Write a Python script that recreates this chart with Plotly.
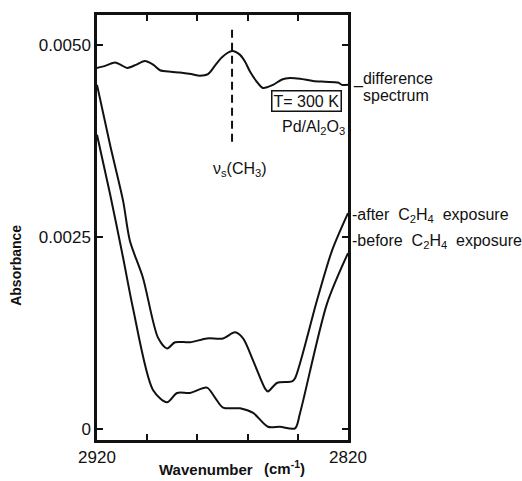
import plotly.graph_objects as go

# --- spectra (wavenumber in cm^-1, absorbance) ---
diff_wn = [2920.0, 2916.5, 2912.8, 2910.5, 2908.0, 2904.5, 2900.9, 2897.5, 2894.9, 2890.5,
           2886.9, 2882.5, 2879.0, 2875.8, 2873.0, 2870.2, 2866.2, 2863.0, 2861.0, 2859.0,
           2856.3, 2853.9, 2849.9, 2846.3, 2843.1, 2839.1, 2833.9, 2829.2, 2824.0, 2822.4, 2820.0]
diff_abs = [0.00470, 0.00473, 0.00477, 0.00474, 0.00470, 0.00474, 0.00479, 0.00474, 0.00467, 0.00465,
            0.00464, 0.00462, 0.00460, 0.00462, 0.00473, 0.00484, 0.00492, 0.00487, 0.00478, 0.00465,
            0.00452, 0.00444, 0.00448, 0.00455, 0.00457, 0.00456, 0.00453, 0.00452, 0.00451, 0.00448, 0.00448]

after_wn = [2920.0, 2914.8, 2909.6, 2906.9, 2901.7, 2895.7, 2892.1, 2888.9, 2882.9, 2876.2,
            2869.8, 2865.0, 2861.8, 2857.8, 2853.1, 2851.9, 2848.3, 2842.3, 2841.1, 2832.4,
            2826.4, 2820.0]
after_abs = [0.00448, 0.00370, 0.00297, 0.00245, 0.00197, 0.00119, 0.00105, 0.00113, 0.00113, 0.00118,
             0.00118, 0.00126, 0.00118, 0.00089, 0.00053, 0.00049, 0.00060, 0.00062, 0.00066, 0.00167,
             0.00232, 0.00281]

before_wn = [2920.0, 2914.8, 2909.6, 2905.7, 2897.7, 2892.1, 2888.1, 2882.9, 2876.2, 2873.0,
             2869.8, 2863.0, 2857.8, 2851.9, 2847.1, 2841.1, 2839.1, 2828.4, 2820.0]
before_abs = [0.00383, 0.00306, 0.00223, 0.00158, 0.00051, 0.00035, 0.00047, 0.00047, 0.00054, 0.00041,
              0.00028, 0.00027, 0.00021, 0.00003, 0.00003, 0.00001, 0.00021, 0.00163, 0.00229]

# vs(CH3) marker position
ch3_wn = 2866.2
ch3_marker_abs = [0.00374, 0.00521]

x_ticks = [2920, 2900, 2880, 2860, 2840, 2820]
x_ticktext = ["2920", "", "", "", "", "2820"]
y_ticks = [0.0, 0.0025, 0.0050]
y_ticktext = ["0", "0.0025", "0.0050"]

FONT = "Liberation Sans"
INK = "#111111"

fig = go.Figure()
line_style = dict(color=INK, width=2, shape="spline", smoothing=0.8)
for wn, ab in [(diff_wn, diff_abs), (after_wn, after_abs), (before_wn, before_abs)]:
    fig.add_trace(go.Scatter(x=wn, y=ab, mode="lines", line=line_style,
                             hoverinfo="skip", showlegend=False))

fig.add_trace(go.Scatter(x=[ch3_wn, ch3_wn], y=ch3_marker_abs, mode="lines",
                         line=dict(color=INK, width=2, dash="8px,5px"),
                         hoverinfo="skip", showlegend=False))

# plot box in pixels: left 97, right 348, top 13, bottom 440
L, R, T, B = 97, 348, 13, 440
def xp(px):
    return (px - L) / (R - L)
def yp(py):
    return (B - py) / (B - T)

axis_common = dict(showline=True, linecolor=INK, linewidth=2.5, mirror="ticks",
                   ticks="inside", ticklen=6, tickwidth=1.5, tickcolor=INK,
                   showgrid=False, zeroline=False,
                   tickfont=dict(family=FONT, size=17, color=INK))

fig.update_layout(
    width=522, height=481,
    margin=dict(l=L, r=522 - R, t=T, b=481 - B),
    paper_bgcolor="white", plot_bgcolor="white",
    xaxis=dict(range=[2920, 2820], tickvals=x_ticks, ticktext=x_ticktext, **axis_common),
    yaxis=dict(range=[-0.000142, 0.005389], tickvals=y_ticks, ticktext=y_ticktext, **axis_common),
    font=dict(family=FONT, color=INK),
)

ann = []
def add_text(text, px, py, size=15, xanchor="left", yanchor="middle", **kw):
    ann.append(dict(text=text, x=xp(px), y=yp(py), xref="paper", yref="paper",
                    xanchor=xanchor, yanchor=yanchor, showarrow=False,
                    font=dict(family=FONT, size=size, color=INK), **kw))

add_text("<b>Absorbance</b>", 16, 265, size=14, xanchor="center", textangle=-90)
add_text("<b>Wavenumber</b>", 206, 470, size=15, xanchor="center")
add_text("<b>(cm<sup>-1</sup>)</b>", 284, 468, size=15, xanchor="center")

add_text("_difference", 351, 77, size=16)
add_text("spectrum", 361, 94, size=16)
add_text("-after  C<sub>2</sub>H<sub>4</sub>  exposure", 350, 214, size=16)
add_text("-before  C<sub>2</sub>H<sub>4</sub>  exposure", 350, 241, size=16)

add_text("T= 300 K", 306.5, 99.5, size=16, xanchor="center",
         bordercolor=INK, borderwidth=1.5, borderpad=1)
add_text("Pd/Al<sub>2</sub>O<sub>3</sub>", 313, 126, size=16, xanchor="center")
add_text("ν<sub>s</sub>(CH<sub>3</sub>)", 240, 168, size=16, xanchor="center")

fig.update_layout(annotations=ann)
fig.write_html("out.html")
